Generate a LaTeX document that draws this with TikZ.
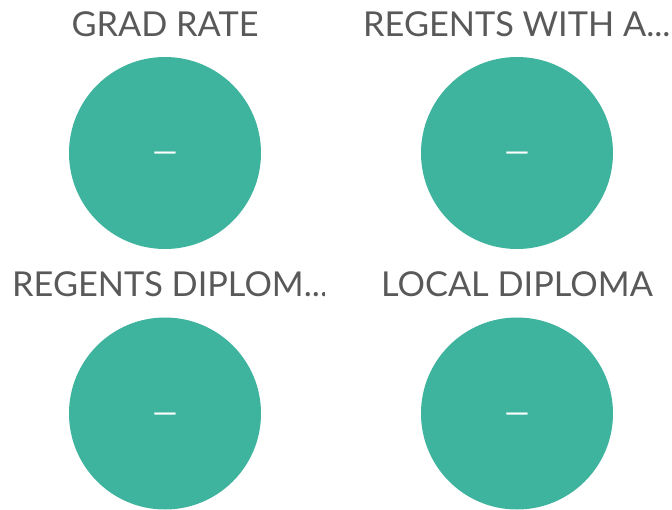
\documentclass[tikz,border=0pt]{standalone}
\usepackage{fontspec}
\setmainfont{Lato}
\definecolor{teal1}{HTML}{3EB39D}
\definecolor{gray1}{HTML}{595959}
\begin{document}
\begin{tikzpicture}[x=1pt,y=1pt,
  disc/.style={circle,fill=teal1,draw=none,minimum size=192pt,inner sep=0pt},
  val/.style={anchor=base,inner sep=0pt,text=white,font=\fontsize{32}{32}\selectfont},
  title/.style={anchor=base,text=gray1,inner sep=0pt,font=\fontsize{34.3}{34.3}\selectfont},
  ltitle/.style={title,anchor=base west}]
\useasboundingbox (0,0) rectangle (672,-510);
\node[disc] (c1) at (165,-153) {};
\node[disc] (c2) at (517,-153) {};
\node[disc] (c3) at (165,-413.5) {};
\node[disc] (c4) at (517,-413.5) {};
\node[val] (d1) at (165,-163) {—};
\node[val] (d2) at (517,-163) {—};
\node[val] (d3) at (165,-423.5) {—};
\node[val] (d4) at (517,-423.5) {—};
\node[title] (t1) at (165,-36.7) {GRAD RATE};
\node[ltitle] (t2) at (363,-36.7) {REGENTS WITH A...};
\begin{scope}
\clip (0,-250) rectangle (324,-320);
\node[ltitle] (t3) at (12,-296.7) {REGENTS DIPLOM...};
\end{scope}
\node[title] (t4) at (517,-296.7) {LOCAL DIPLOMA};
\end{tikzpicture}
\end{document}
